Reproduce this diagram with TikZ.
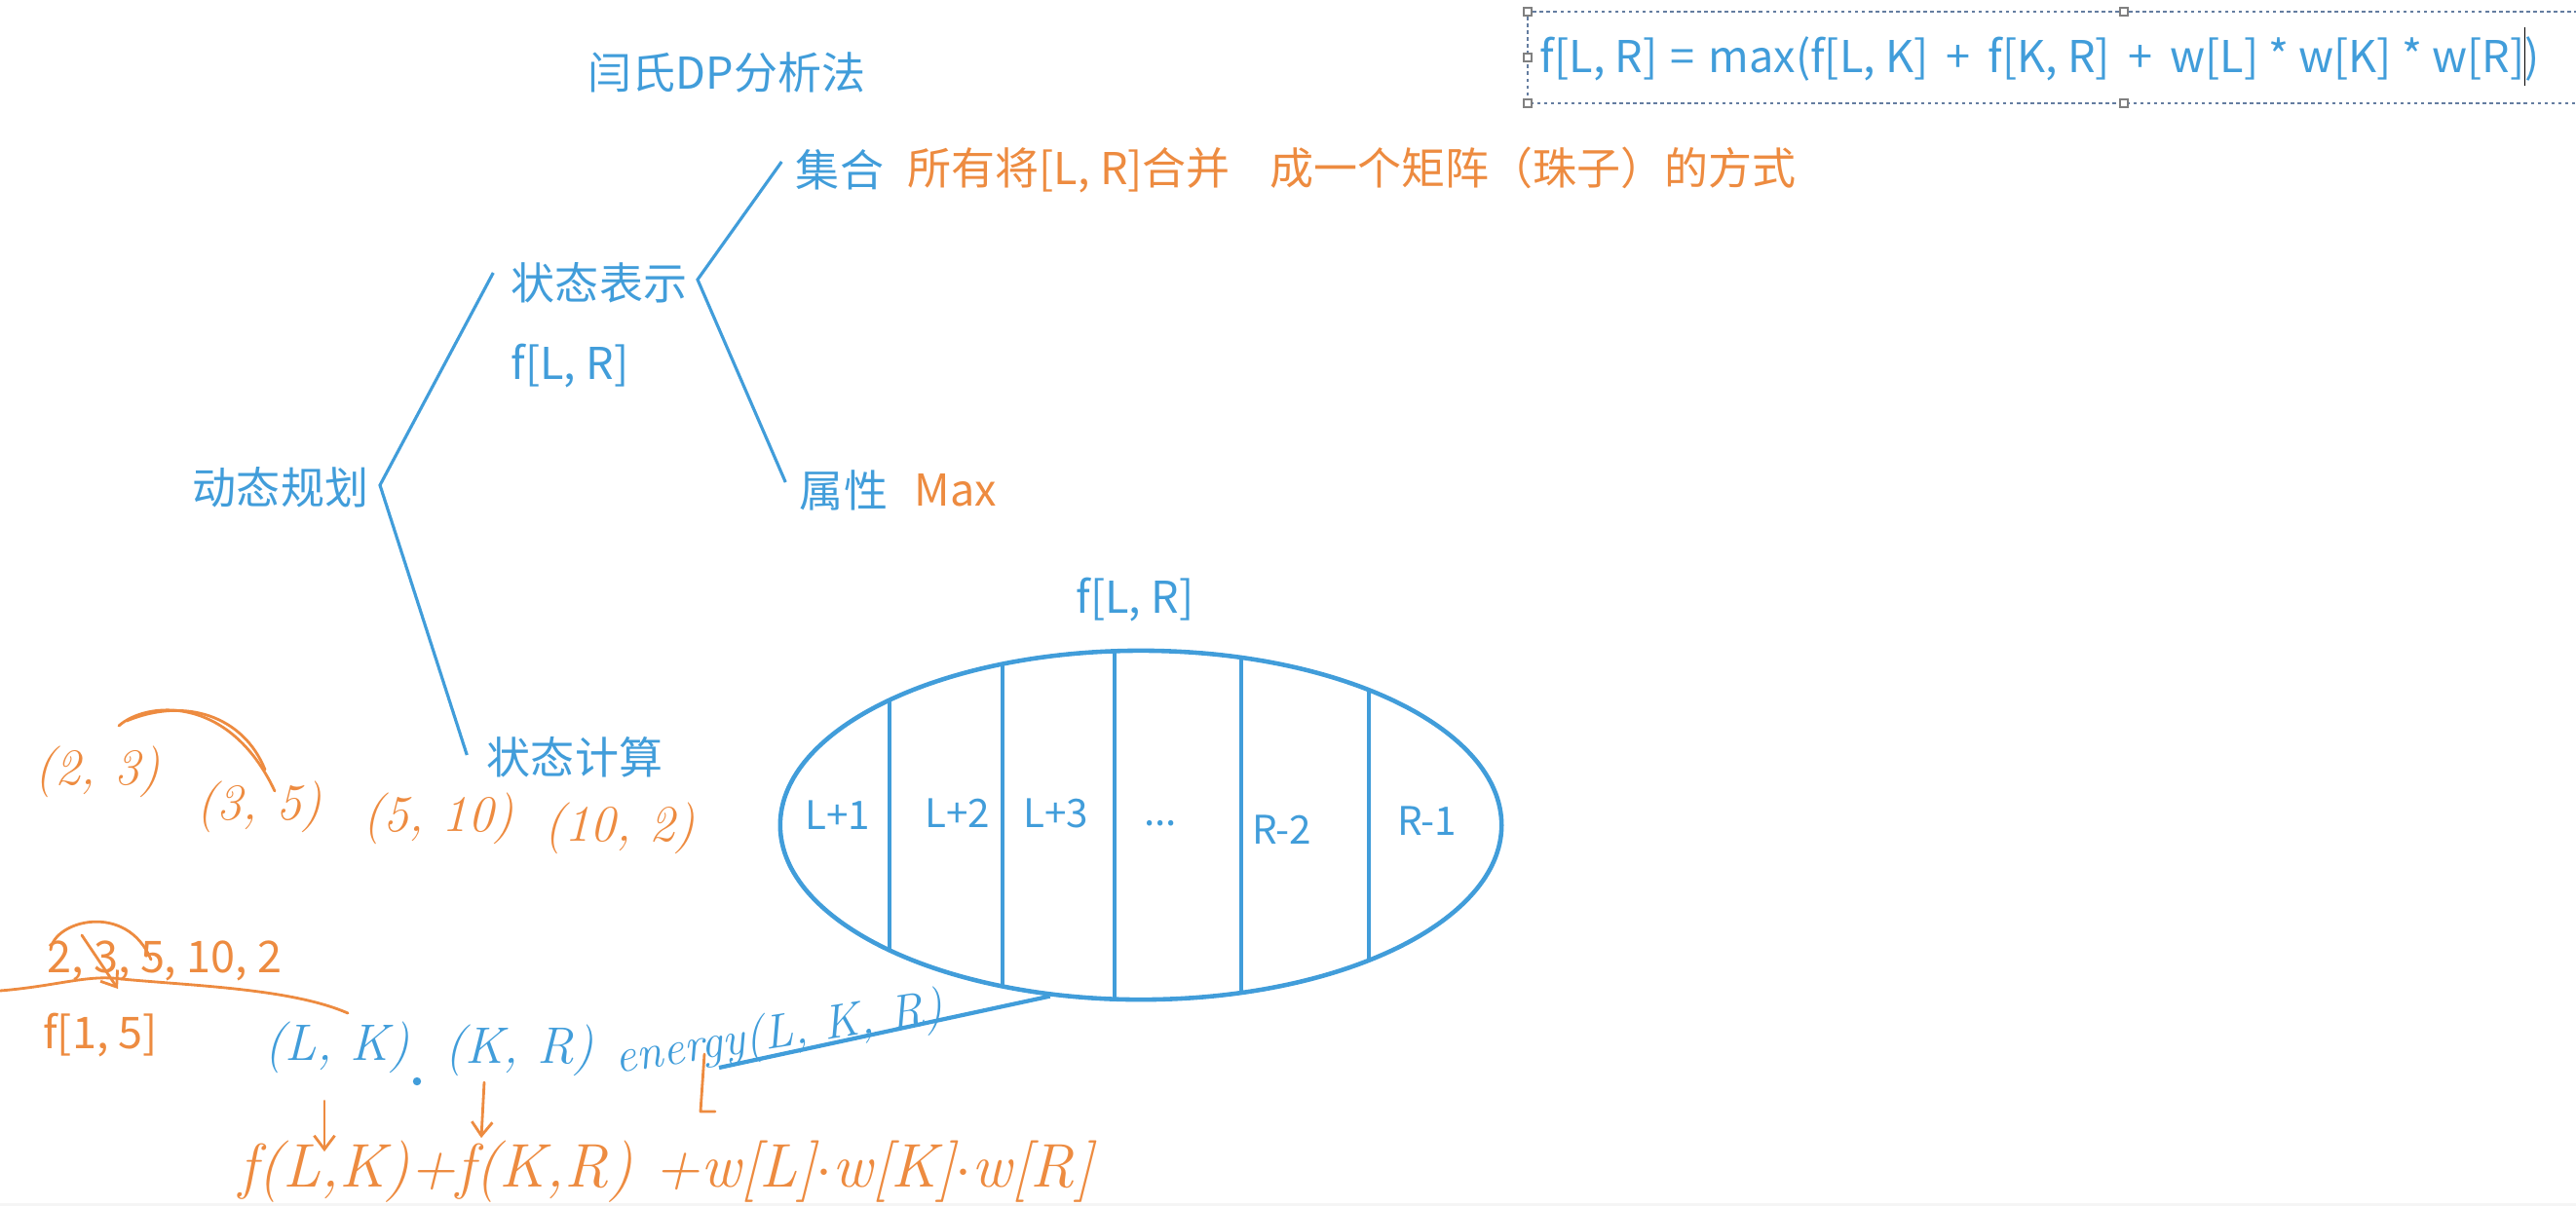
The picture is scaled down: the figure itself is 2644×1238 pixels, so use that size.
\documentclass[tikz,border=0pt]{standalone}
\usepackage{fontspec}
\newfontfamily\cjk{Noto Sans CJK SC}
\usetikzlibrary{shapes.geometric,calc,arrows.meta}
\definecolor{inkblue}{RGB}{65,157,218}
\definecolor{inkorange}{RGB}{237,139,64}
\definecolor{boxgray}{RGB}{100,125,160}
\tikzset{
  typed/.style={font=\cjk\fontsize{12.8}{15}\selectfont, inner sep=0pt},
  bluetxt/.style={typed, text=inkblue},
  orangetxt/.style={typed, text=inkorange},
  celltxt/.style={bluetxt, font=\cjk\fontsize{11.5}{14}\selectfont},
  hand/.style={font=\fontsize{15}{18}\selectfont\itshape, inner sep=0pt},
  branch/.style={inkblue, line width=0.9pt},
  pen/.style={inkorange, line width=0.8pt, line cap=round, line join=round},
  penarrow/.style={pen, -{Straight Barb[length=4pt,width=6pt]}},
}
\newcommand{\opsp}[1]{\hspace{2.3pt}#1\hspace{2.3pt}}
\newcommand{\caret}{\makebox[0pt]{\color{black}\rule[-0.3em]{0.5pt}{1.35em}}}
\begin{document}
\begin{tikzpicture}[x=0.01cm,y=-0.01cm]
\useasboundingbox (0,0) rectangle (2644,1238);
\fill[gray!8] (0,1235) rectangle (2644,1238);
% formula box
\draw[boxgray, dash pattern=on 1pt off 1pt, line width=0.5pt] (2660,12) -- (1568,12) -- (1568,106) -- (2660,106);
\foreach \hx/\hy in {1568/12,2180/12,1568/59,1568/106,2180/106}
  \filldraw[fill=white, draw=gray, line width=0.4pt] (\hx,\hy) +(-4,-4) rectangle +(4,4);
\node[bluetxt, anchor=west] (rec) at (1580,58) {f[L, R]\hspace{1pt} = \hspace{1pt}max(f[L, K] \opsp{+} f[K, R] \opsp{+} w[L] * w[K] * w[R]\caret)};

% tree
\node[bluetxt] (title) at (746,74) {闫氏DP分析法};
\node[bluetxt] (dp) at (288,500) {动态规划};
\node[bluetxt] (zt) at (615,290) {状态表示};
\node[bluetxt] (ztf) at (585,376) {f[L, R]};
\node[bluetxt] (zj) at (590,777) {状态计算};
\node[bluetxt] (jh) at (862,174) {集合};
\node[orangetxt, anchor=west] (jhdesc) at (931,174) {所有将[L, R]合并\hspace{0.9em}成一个矩阵（珠子）的方式};
\node[bluetxt] (sx) at (866,503) {属性};
\node[orangetxt] (sxdesc) at (981,503) {Max};
\coordinate (v1) at (390,498);
\draw[branch] ($(zt.west)+(-18,-10)$) -- (v1) -- ($(zj.west)+(-20,-2)$);
\coordinate (v2) at (716,287);
\draw[branch] ($(jh.west)+(-14,-8)$) -- (v2) -- ($(sx.west)+(-14,-8)$);

% beads
\node[bluetxt] (ftop) at (1165,616) {f[L, R]};
\node[draw=inkblue, ellipse, line width=1.3pt, minimum width=7.4cm, minimum height=3.58cm, inner sep=0pt] (bead) at (1171,847) {};
\begin{scope}
\clip (1171,847) ellipse [x radius=3.7cm, y radius=1.79cm];
\foreach \x in {913,1029,1144,1274,1405}
  \draw[branch] (\x,640) -- (\x,1060);
\end{scope}
\node[celltxt] (c1) at (860,837) {L+1};
\node[celltxt] (c2) at (983,835) {L+2};
\node[celltxt] (c3) at (1084,835) {L+3};
\node[celltxt] (c4) at (1191,845) {...};
\node[celltxt] (c5) at (1316,852) {R-2};
\node[celltxt] (c6) at (1465,843) {R-1};

% handwriting, first row
\node[hand, text=inkorange] (p1) at (100,792) {(2, 3)};
\node[hand, text=inkorange] (p2) at (266,828) {(3, 5)};
\node[hand, text=inkorange] (p3) at (450,840) {(5, 10)};
\node[hand, text=inkorange] (p4) at (636,850) {(10, 2)};
\draw[pen] (122,745) .. controls (150,720) and (235,712) .. (282,812);
\draw[pen] (130,740) .. controls (190,715) and (250,735) .. (272,790);

% second row
\node[orangetxt] (nums) at (169,986) {2, 3, 5, 10, 2};
\node[orangetxt] (f15) at (103,1063) {f[1, 5]};
\draw[pen] (52,975) .. controls (55,945) and (130,925) .. (155,985);
\draw[penarrow] (84,960) -- (121,1015);
\draw[pen] (0,1017) .. controls (60,1012) and (90,1000) .. (125,1005) .. controls (200,1012) and (300,1015) .. (357,1040);

% blue notes
\node[hand, text=inkblue] (lk) at (346,1075) {(L, K)};
\node[hand, text=inkblue] (kr) at (533,1078) {(K, R)};
\fill[inkblue] (428,1110) circle (1.2pt);
\node[hand, text=inkblue, font=\fontsize{14}{16}\selectfont\itshape, rotate=9] (en) at (800,1063) {energy(L, K, R)};
\coordinate (hook) at (738,1096);
\draw[branch, line width=1.2pt] (bead.242) -- (hook);

% orange result
\node[hand, text=inkorange, font=\fontsize{18}{20}\selectfont\itshape] (fsum) at (684,1203) {f(L,K)+f(K,R)\ +w[L]$\cdot$w[K]$\cdot$w[R]};
\draw[penarrow] ($(lk.south)+(-13,28)$) -- ++(0,52);
\draw[penarrow] ($(kr.south)+(-36,6)$) -- ++(-3,57);
\draw[pen] ($(hook)+(-15,-14)$) -- ++(-4,59) -- ++(15,0);
\end{tikzpicture}
\end{document}
